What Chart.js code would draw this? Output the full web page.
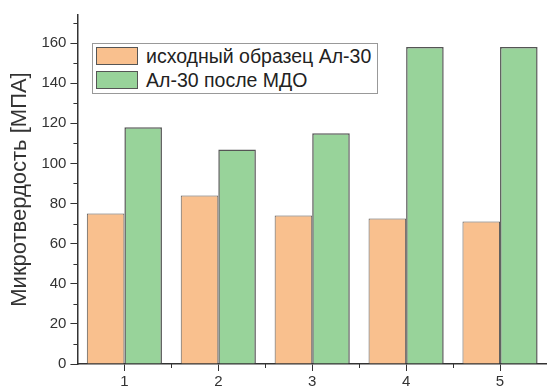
<!DOCTYPE html>
<html>
<head>
<meta charset="utf-8">
<script src="https://cdn.jsdelivr.net/npm/chart.js@4/dist/chart.umd.min.js"></script>
<style>
  html, body { margin: 0; padding: 0; background: #fff; }
  #wrap { position: relative; width: 547px; height: 387px; }
  #legend {
    position: absolute; left: 92px; top: 43px; width: 284px; height: 49px;
    border: 1px solid #999; background: #fff;
    font-family: "Liberation Sans", Arial, sans-serif; font-size: 19.5px; color: #222;
  }
  #legend .row { display: flex; align-items: center; height: 24px; }
  #legend .sw { width: 42px; height: 18px; margin: 0 8px 0 3px; border: 1px solid #555; box-sizing: border-box; }
</style>
</head>
<body>
<div id="wrap">
  <canvas id="graph" width="547" height="387"></canvas>
  <div id="legend"></div>
</div>
<script>
"use strict";

const categories = ["1", "2", "3", "4", "5"];
const seriesNames = ["исходный образец Ал-30", "Ал-30 после МДО"];
const initialValues = [75, 84, 74, 72.5, 71];
const mdoValues = [118, 107, 115, 158, 158];
const yTicks = [0, 20, 40, 60, 80, 100, 120, 140, 160];
const yMinorTicks = [10, 30, 50, 70, 90, 110, 130, 150, 170];

const orange = "#f9c08e";
const green = "#98d39a";
const edge = "#555555";
const axisColor = "#333333";
const fontFamily = "'Liberation Sans', Arial, sans-serif";

document.addEventListener("DOMContentLoaded", () => {
  const legend = document.getElementById("legend");
  [orange, green].forEach((c, i) => {
    const row = document.createElement("div");
    row.className = "row";
    const sw = document.createElement("span");
    sw.className = "sw";
    sw.style.background = c;
    const label = document.createElement("span");
    label.textContent = seriesNames[i];
    row.appendChild(sw);
    row.appendChild(label);
    legend.appendChild(row);
  });

  // short minor tick marks: y at odd tens, x between categories
  const minorTicks = {
    id: "minorTicks",
    afterDraw(chart) {
      const ctx = chart.ctx;
      const y = chart.scales.y;
      const x = chart.scales.x;
      ctx.save();
      ctx.strokeStyle = axisColor;
      ctx.lineWidth = 1;
      ctx.beginPath();
      yMinorTicks.forEach((v) => {
        const py = Math.round(y.getPixelForValue(v)) + 0.5;
        ctx.moveTo(x.left - 4, py);
        ctx.lineTo(x.left, py);
      });
      for (let i = 0; i < categories.length - 1; i++) {
        const px = Math.round((x.getPixelForValue(i) + x.getPixelForValue(i + 1)) / 2) + 0.5;
        ctx.moveTo(px, y.bottom);
        ctx.lineTo(px, y.bottom + 4);
      }
      ctx.stroke();
      ctx.restore();
    },
  };

  const ctx = document.getElementById("graph").getContext("2d");
  new Chart(ctx, {
    type: "bar",
    data: {
      labels: categories,
      datasets: [
        {
          label: seriesNames[0],
          data: initialValues,
          backgroundColor: orange,
          borderColor: edge,
          borderWidth: 1,
        },
        {
          label: seriesNames[1],
          data: mdoValues,
          backgroundColor: green,
          borderColor: edge,
          borderWidth: 1.5,
        },
      ],
    },
    options: {
      responsive: false,
      animation: false,
      layout: { padding: { top: 15, right: 0, bottom: -6, left: 7 } },
      plugins: { legend: { display: false }, tooltip: { enabled: false } },
      datasets: { bar: { categoryPercentage: 0.8, barPercentage: 1.0 } },
      scales: {
        x: {
          offset: true,
          grid: { offset: false, drawOnChartArea: false, tickLength: 7, color: axisColor },
          border: { color: axisColor, width: 1.5 },
          ticks: {
            color: "#333",
            padding: 2,
            font: { family: fontFamily, size: 15 },
          },
        },
        y: {
          min: 0,
          max: 174,
          afterBuildTicks: (axis) => {
            axis.ticks = yTicks.map((v) => ({ value: v }));
          },
          grid: { drawOnChartArea: false, tickLength: 7, color: axisColor },
          border: { color: axisColor, width: 1.5 },
          ticks: {
            color: "#333",
            padding: 4,
            font: { family: fontFamily, size: 15 },
          },
          title: {
            display: true,
            text: "Микротвердость [МПА]",
            color: "#333",
            padding: { top: 0, bottom: 4 },
            font: { family: fontFamily, size: 22 },
          },
        },
      },
    },
    plugins: [minorTicks],
  });
});
</script>
</body>
</html>
